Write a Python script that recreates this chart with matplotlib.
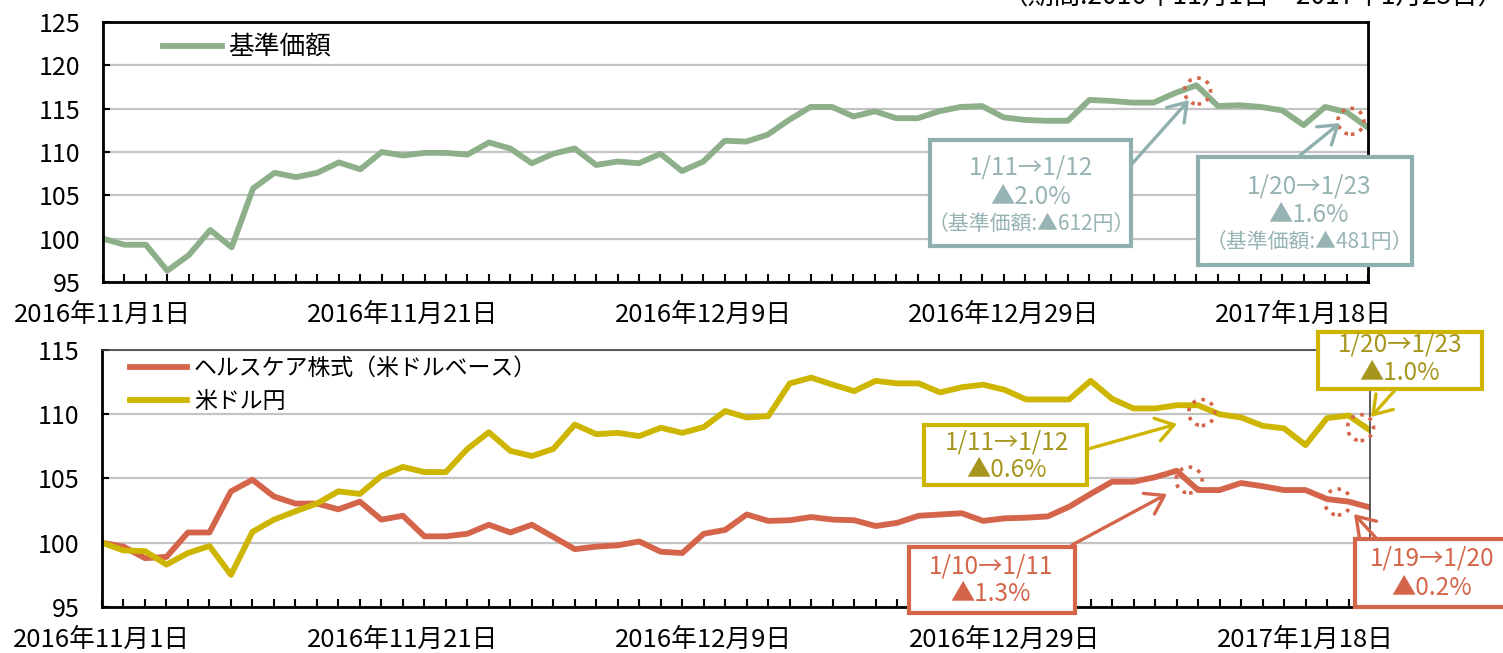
import numpy as np
import pandas as pd
import matplotlib
matplotlib.use("Agg")
import matplotlib.pyplot as plt
from matplotlib.patches import Rectangle, Ellipse, FancyArrowPatch

plt.rcParams["font.family"] = ["Noto Sans CJK JP", "DejaVu Sans"]

# business days 2016/11/1 - 2017/1/23 (60 points)
dates = pd.bdate_range("2016-11-01", "2017-01-23")

# indexed to 100 at 2016/11/1
nav = [100.0, 99.3, 99.3, 96.3, 98.1, 101.0, 99.0, 105.8, 107.6, 107.1,
       107.6, 108.8, 108.0, 110.0, 109.6, 109.9, 109.9, 109.7, 111.1, 110.4,
       108.7, 109.8, 110.4, 108.5, 108.9, 108.7, 109.8, 107.8, 108.9, 111.3,
       111.2, 112.0, 113.7, 115.2, 115.2, 114.1, 114.7, 113.9, 113.9, 114.7,
       115.2, 115.3, 114.0, 113.7, 113.6, 113.6, 116.0, 115.9, 115.7, 115.7,
       116.8, 117.7, 115.3, 115.4, 115.2, 114.8, 113.1, 115.2, 114.6, 112.8]
healthcare = [100.0, 99.7, 98.8, 98.9, 100.8, 100.8, 104.0, 104.9, 103.6, 103.05,
              103.05, 102.6, 103.2, 101.8, 102.1, 100.5, 100.5, 100.7, 101.4, 100.8,
              101.4, 100.45, 99.5, 99.7, 99.8, 100.1, 99.3, 99.2, 100.7, 101.0,
              102.2, 101.7, 101.75, 102.0, 101.8, 101.75, 101.3, 101.55, 102.1, 102.2,
              102.3, 101.7, 101.9, 101.95, 102.05, 102.8, 103.8, 104.75, 104.75, 105.1,
              105.6, 104.1, 104.1, 104.65, 104.4, 104.1, 104.1, 103.4, 103.2, 102.75]
usdjpy = [100.0, 99.4, 99.35, 98.3, 99.2, 99.75, 97.5, 100.85, 101.8, 102.45,
          103.05, 104.0, 103.8, 105.2, 105.9, 105.5, 105.5, 107.3, 108.6, 107.15,
          106.75, 107.3, 109.2, 108.45, 108.55, 108.3, 108.95, 108.55, 109.0, 110.25,
          109.75, 109.85, 112.4, 112.85, 112.3, 111.8, 112.6, 112.4, 112.4, 111.7,
          112.1, 112.3, 111.9, 111.15, 111.15, 111.15, 112.6, 111.2, 110.45, 110.45,
          110.7, 110.7, 110.0, 109.75, 109.1, 108.9, 107.6, 109.7, 109.9, 108.75]

label_dates = ["2016-11-01", "2016-11-21", "2016-12-09", "2016-12-29", "2017-01-18"]
period_note = "（期間:2016年11月1日～2017年1月23日）"

GREEN = "#8DB08A"
TEAL = "#8FB0AF"
TEAL_TXT = "#97B3B3"
RED = "#D5654A"
YELLOW = "#CDB500"
OLIVE = "#A6961E"

W, H = 1503, 653
fig = plt.figure(figsize=(W / 100, H / 100), dpi=100)


def fx(px):
    return px / W


def fy(py):
    return 1 - py / H


x = np.arange(len(dates))
label_pos = [dates.get_loc(pd.Timestamp(d)) for d in label_dates]
xlabels = ["" for _ in x]
for p in label_pos:
    d = dates[p]
    xlabels[p] = f"{d.year}年{d.month}月{d.day}日"

ax1 = fig.add_axes([fx(103), fy(282), fx(1368) - fx(103), fy(22) - fy(282)])
ax2 = fig.add_axes([fx(102), fy(607), fx(1370) - fx(102), fy(350) - fy(607)])


def style(ax, ymin, ymax):
    ax.set_xlim(0, len(dates) - 1)
    ax.set_ylim(ymin, ymax)
    ax.set_yticks(range(ymin, ymax + 1, 5))
    ax.yaxis.grid(True, color="#C4C4C4", lw=1.6)
    ax.set_axisbelow(True)
    ax.set_xticks(x)
    ax.set_xticklabels(xlabels)
    ax.tick_params(axis="x", direction="in", length=6, width=1.5, pad=14, labelsize=18.5)
    ax.tick_params(axis="y", direction="in", length=5, width=1.5, pad=16, labelsize=18)
    for s in ax.spines.values():
        s.set_color("black")
        s.set_linewidth(2)


style(ax1, 95, 125)
style(ax2, 95, 115)
ax2.spines["top"].set_color("#404040")
ax2.spines["top"].set_linewidth(1.2)
ax2.spines["right"].set_color("#404040")
ax2.spines["right"].set_linewidth(1.2)

ax1.plot(x, nav, color=GREEN, lw=4.2, label="基準価額")
ax2.plot(x, healthcare, color=RED, lw=4.2, label="ヘルスケア株式（米ドルベース）")
ax2.plot(x, usdjpy, color=YELLOW, lw=4.2, label="米ドル円")

ax1.legend(loc="center left", bbox_to_anchor=(0.0474, 0.9), frameon=False, fontsize=18.5,
           handlelength=2.3, handletextpad=0.25, borderpad=0, borderaxespad=0)
ax2.legend(loc="center left", bbox_to_anchor=(0.022, 0.864), frameon=False, fontsize=16.5,
           handlelength=2.5, handletextpad=0.3, labelspacing=0.45, borderpad=0, borderaxespad=0)


# dotted circles on the drops
def ring(ax, i, series, dy, w, h):
    ax.add_patch(Ellipse((i, np.interp(i, x, series) + dy), w, h, fill=False, ec=RED,
                         lw=2.6, ls=(0, (1, 1.6)), clip_on=False, zorder=4))


ring(ax1, 51.05, nav, -0.55, 1.21, 3.0)
ring(ax1, 58.2, nav, -0.7, 1.21, 3.0)
ring(ax2, 51.17, usdjpy, -0.45, 1.21, 2.02)
ring(ax2, 58.56, usdjpy, -0.3, 1.21, 2.02)
ring(ax2, 50.58, healthcare, 0.15, 1.21, 2.02)
ring(ax2, 57.5, healthcare, -0.13, 1.21, 2.02)


def box(x0, y0, x1, y1, color):
    fig.add_artist(Rectangle((fx(x0), fy(y1)), fx(x1) - fx(x0), fy(y0) - fy(y1),
                             transform=fig.transFigure, facecolor="white",
                             edgecolor=color, lw=3, zorder=5))


def label(px, py, s, color, size):
    fig.text(fx(px), fy(py), s, color=color, fontsize=size, ha="center", va="center", zorder=6)


def arrow(p0, p1, color):
    fig.add_artist(FancyArrowPatch((fx(p0[0]), fy(p0[1])), (fx(p1[0]), fy(p1[1])),
                                   transform=fig.transFigure,
                                   arrowstyle="->,head_length=0.45,head_width=0.3",
                                   mutation_scale=28, color=color, lw=2.4,
                                   shrinkA=0, shrinkB=0, zorder=6))


# top panel callouts
box(930, 140, 1131, 246, TEAL)
label(1031, 168, "1/11→1/12", TEAL_TXT, 17.5)
label(1031, 197, "▲2.0%", TEAL_TXT, 17.5)
label(1031, 224, "（基準価額:▲612円）", TEAL_TXT, 15)
arrow((1131, 165), (1189, 100), TEAL)

box(1198, 157, 1412, 265, TEAL)
label(1309, 187, "1/20→1/23", TEAL_TXT, 17.5)
label(1309, 215, "▲1.6%", TEAL_TXT, 17.5)
label(1309, 242, "（基準価額:▲481円）", TEAL_TXT, 15)
arrow((1298, 157), (1340, 123), TEAL)

# bottom panel callouts
box(924, 425, 1087, 485, YELLOW)
label(1007, 442, "1/11→1/12", OLIVE, 17.5)
label(1007, 470, "▲0.6%", OLIVE, 17.5)
arrow((1088, 449), (1177, 424), YELLOW)

box(1318, 332, 1482, 389, YELLOW)
label(1400, 345, "1/20→1/23", OLIVE, 17.5)
label(1400, 373, "▲1.0%", OLIVE, 17.5)
arrow((1396, 389), (1371, 417), YELLOW)

box(909, 547, 1075, 613, RED)
label(991, 567, "1/10→1/11", RED, 17.5)
label(991, 594, "▲1.3%", RED, 17.5)
arrow((1072, 545), (1167, 494), RED)

box(1355, 539, 1510, 607, RED)
label(1432, 559, "1/19→1/20", RED, 17.5)
label(1432, 588, "▲0.2%", RED, 17.5)
arrow((1377, 539), (1354, 514), RED)

fig.text(fx(1505), fy(4), period_note, fontsize=19, ha="right", va="baseline")

fig.savefig("out.png", dpi=100)
